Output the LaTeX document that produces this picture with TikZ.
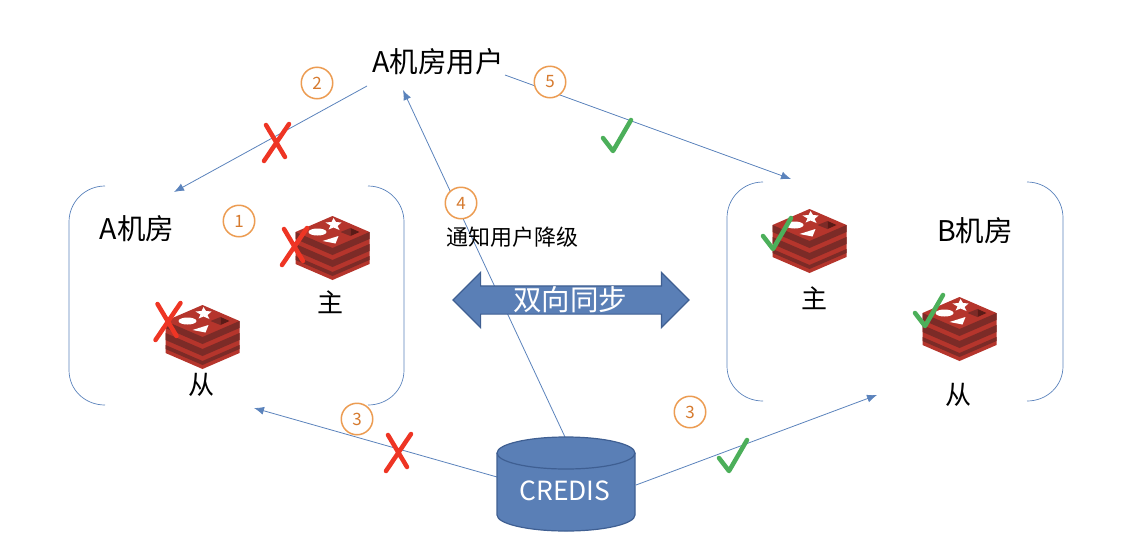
\documentclass[tikz,border=0pt]{standalone}
\usepackage{fontspec}
\setmainfont{Noto Sans CJK SC}
\usetikzlibrary{positioning,arrows.meta,shapes.arrows}
\definecolor{linkblue}{HTML}{5B83BC}
\definecolor{shapeblue}{HTML}{5A7FB6}
\definecolor{edgeblue}{HTML}{3F5F92}
\definecolor{stepline}{HTML}{EC9C52}
\definecolor{stepnum}{HTML}{D67A2E}
\definecolor{badred}{HTML}{EE3524}
\definecolor{goodgreen}{HTML}{4CAF5A}
\definecolor{redistop}{HTML}{B5352C}
\definecolor{redisdark}{HTML}{7C2B27}
\definecolor{redisdeep}{HTML}{5A1B17}
\begin{document}
\begin{tikzpicture}[x=1pt,y=-1pt,
  link/.style={
    draw=linkblue,
    line width=0.8pt,
    -{Latex[length=10pt,width=8pt]}
  },
  room/.style={
    draw=linkblue,
    line width=0.7pt
  },
  stepmark/.style={
    draw=stepline,
    fill=white,
    circle,
    line width=1.5pt,
    minimum size=31.5pt,
    inner sep=0pt,
    text=stepnum,
    font=\fontsize{17}{17}\selectfont
  },
  label/.style={
    inner sep=0pt,
    font=\fontsize{26}{26}\selectfont
  },
  roomname/.style={
    inner sep=0pt,
    font=\fontsize{28.5}{28.5}\selectfont
  },
  pics/crossmark/.style={code={
    \draw[badred,line width=4.5pt,line cap=round] (-10,-17) -- (9,15) (13,-18) -- (-12,19);
  }},
  pics/checkmark/.style={code={
    \draw[goodgreen,line width=4.5pt,line cap=round,line join=round] (-10,-13) -- (0,0) -- (18,-31);
  }},
  pics/redis/.style={code={
    \fill[redistop] (-37,-16) -- (0,-32) -- (37,-16) -- (37,16) -- (0,32) -- (-37,16) -- cycle;
    \foreach \d/\t in {0/7,12/7,24/4} {
      \fill[redisdark] (-37,-16+\d) -- (0,\d) -- (37,-16+\d) -- (37,-16+\d+\t) -- (0,\d+\t) -- (-37,-16+\d+\t) -- cycle;
    }
    \fill[white] (-15,-16) ellipse [x radius=9,y radius=3.5];
    \fill[white] (1,-30) -- (3.5,-26) -- (9,-25.5) -- (5,-22) -- (7,-18) -- (1,-20.5) -- (-4,-18.5) -- (-2,-22.5) -- (-7,-25.5) -- (-1,-26) -- cycle;
    \fill[white] (-10,-7) -- (6,-12) -- (3,-4.5) -- cycle;
    \fill[redisdark] (8,-16) -- (18,-20) -- (18,-12) -- cycle;
    \fill[redisdeep] (18,-20) -- (27,-16) -- (18,-12) -- cycle;
  }}]
  \useasboundingbox (0,0) rectangle (1126,552);

  \node[roomname] (user) at (438,62) {A机房用户};

  \coordinate (userl) at (367,86);
  \coordinate (userr) at (505,75);
  \coordinate (userb) at (403,90);
  \coordinate (rooma) at (174,192);
  \coordinate (roomb) at (791,179);
  \coordinate (slavea) at (254,408);
  \coordinate (slaveb) at (877,395);
  \coordinate (crediss) at (565,437);
  \coordinate (credisl) at (497,477);
  \coordinate (credisr) at (636,485);

  \draw[link] (userl) -- (rooma);
  \draw[link] (userr) -- (roomb);
  \draw[link] (crediss) -- (userb);
  \draw[link] (credisl) -- (slavea);
  \draw[link] (credisr) -- (slaveb);

  % room brackets
  \draw[room] (105,186) .. controls (85,186) and (69,202) .. (69,222) -- (69,370) .. controls (69,390) and (85,405) .. (105,405);
  \draw[room] (368,186) .. controls (388,186) and (404,202) .. (404,222) -- (404,370) .. controls (404,390) and (388,405) .. (368,405);
  \draw[room] (763,182) .. controls (743,182) and (727,198) .. (727,218) -- (727,366) .. controls (727,386) and (743,401) .. (763,401);
  \draw[room] (1027,182) .. controls (1047,182) and (1063,198) .. (1063,218) -- (1063,366) .. controls (1063,386) and (1047,401) .. (1027,401);

  % database
  \draw[draw=edgeblue,fill=shapeblue,line width=1.2pt] (497,453) -- (497,515) arc[start angle=180,end angle=0,x radius=69,y radius=16] -- (635,453);
  \draw[draw=edgeblue,fill=shapeblue,line width=1.2pt] (566,453) ellipse [x radius=69,y radius=16];
  \node[text=white,inner sep=0pt,font=\fontsize{26.4}{26.4}\selectfont] (credis) at (565,491) {CREDIS};

  \node[shape=double arrow,draw=edgeblue,line width=1.2pt,fill=shapeblue,
    minimum height=236pt,minimum width=54pt,double arrow head extend=13.5pt,
    inner sep=0pt,text height=13.5pt,text depth=13.5pt,text width=120pt] (sync) at (571,300) {};
  \node[inner sep=0pt,text=white,font=\fontsize{28.5}{28.5}\selectfont] (synctext) at (570,300) {双向同步};

  \node[roomname] (nameA) at (137,229) {A机房};
  \node[roomname] (nameB) at (975,231) {B机房};
  \node[inner sep=0pt,font=\fontsize{22}{22}\selectfont] (notice) at (512,237) {通知用户降级};
  \node[label] (masterA) at (330,302) {主};
  \node[label] (slaveA) at (201,385) {从};
  \node[label] (masterB) at (814,298) {主};
  \node[label] (slaveB) at (958,395) {从};

  \pic at (332.5,248) {redis};
  \pic at (202.5,337) {redis};
  \pic at (809.5,241) {redis};
  \pic at (959.5,329) {redis};

  \pic at (294,246) {crossmark};
  \pic at (167.5,321) {crossmark};
  \pic at (276,142) {crossmark};
  \pic at (398,452) {crossmark};
  \pic at (613,151) {checkmark};
  \pic at (773,249) {checkmark};
  \pic at (925,326) {checkmark};
  \pic at (729,471) {checkmark};

  \node[stepmark] (one) at (239,221) {1};
  \node[stepmark] (two) at (317,83) {2};
  \node[stepmark] (five) at (550,82) {5};
  \node[stepmark] (four) at (461,203) {4};
  \node[stepmark] (threeA) at (357,419) {3};
  \node[stepmark] (threeB) at (690,412) {3};
\end{tikzpicture}
\end{document}
